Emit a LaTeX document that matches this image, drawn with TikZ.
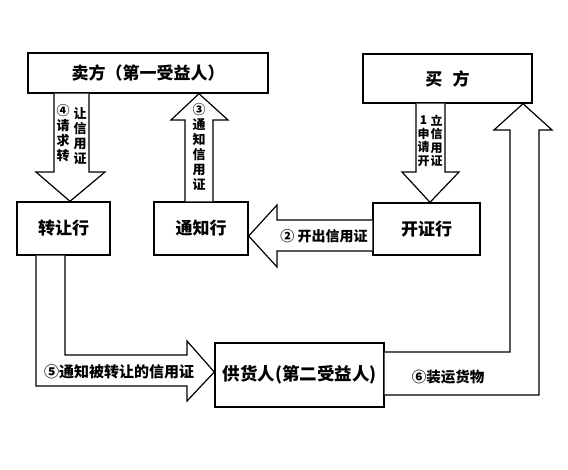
\documentclass[tikz,border=0pt]{standalone}
\usepackage{fontspec}
\newfontfamily\cjk{Noto Sans CJK SC}

\begin{document}
\begin{tikzpicture}[x=1pt,y=-1pt,
    party/.style={draw, line width=1.4pt, fill=white, inner sep=0pt,
      font=\cjk\bfseries\fontsize{17}{19}\selectfont},
    fatarrow/.style={draw, line width=1.2pt, fill=white, line join=miter},
    arrowtext/.style={inner sep=0pt, align=center,
      font=\cjk\bfseries\fontsize{13}{15}\selectfont}]
  \useasboundingbox (0,0) rectangle (568,469);

  % the parties and banks
  \node[party, minimum width=240pt, minimum height=40pt] (seller) at (148,73) {卖方（第一受益人）};
  \node[party, minimum width=169pt, minimum height=49pt] (buyer) at (447.5,78.5) {买\hspace{0.6em}方};
  \node[party, minimum width=93pt, minimum height=53pt] (xfer) at (63.5,228.5) {转让行};
  \node[party, minimum width=94pt, minimum height=53pt] (advise) at (201,228.5) {通知行};
  \node[party, minimum width=107pt, minimum height=52pt] (issue) at (426.5,229) {开证行};
  \node[party, minimum width=169pt, minimum height=64pt, font=\cjk\bfseries\fontsize{17.5}{19}\selectfont] (supplier) at (299.5,375) {供货人(第二受益人)};

  % 1: buyer asks the issuing bank
  \draw[fatarrow] (buyer.south -| 416,0) -- (416,172) -- (402,172) -- (issue.north -| 430,0)
    -- (459,172) -- (445,172) -- (buyer.south -| 445,0);
  \node[arrowtext, font=\cjk\bfseries\fontsize{12}{13.5}\selectfont] (t1a) at (423.5,141) {1\\申\\请\\开};
  \node[arrowtext, font=\cjk\bfseries\fontsize{12}{13.5}\selectfont] (t1b) at (436.5,141) {立\\信\\用\\证};

  % 2: issuing bank to advising bank
  \draw[fatarrow] (issue.west |- 0,220) -- (277,220) -- (277,205) -- (advise.east |- 0,236)
    -- (277,267) -- (277,251) -- (issue.west |- 0,251);
  \node[arrowtext, font=\cjk\bfseries\fontsize{14}{16}\selectfont] (t2) at (324,236) {② 开出信用证};

  % 3: advising bank to seller
  \draw[fatarrow] (advise.north -| 185,0) -- (185,120) -- (171,120) -- (seller.south -| 199,0)
    -- (228,120) -- (213,120) -- (advise.north -| 213,0);
  \node[arrowtext] (t3) at (199,147) {③\\通\\知\\信\\用\\证};

  % 4: seller to transferring bank
  \draw[fatarrow] (seller.south -| 54,0) -- (54,172) -- (36,172) -- (xfer.north -| 70,0)
    -- (105,172) -- (89,172) -- (seller.south -| 89,0);
  \node[arrowtext] (t4a) at (63,133) {④\\请\\求\\转};
  \node[arrowtext] (t4b) at (80,136) {让\\信\\用\\证};

  % 5: transferring bank to supplier
  \draw[fatarrow] (xfer.south -| 36,0) -- (36,386) -- (187,386) -- (187,401) -- (supplier.west |- 0,372)
    -- (187,341) -- (187,355) -- (65,355) -- (xfer.south -| 65,0);
  \node[arrowtext, font=\cjk\bfseries\fontsize{15}{17}\selectfont] (t5) at (119,372) {⑤通知被转让的信用证};

  % 6: supplier ships the goods
  \draw[fatarrow] (supplier.east |- 0,395) -- (539,395) -- (539,130) -- (552,130) -- (buyer.south -| 523,0)
    -- (494,130) -- (510,130) -- (510,352) -- (supplier.east |- 0,352);
  \node[arrowtext, font=\cjk\bfseries\fontsize{14.5}{16}\selectfont] (t6) at (448,377) {⑥装运货物};
\end{tikzpicture}
\end{document}
